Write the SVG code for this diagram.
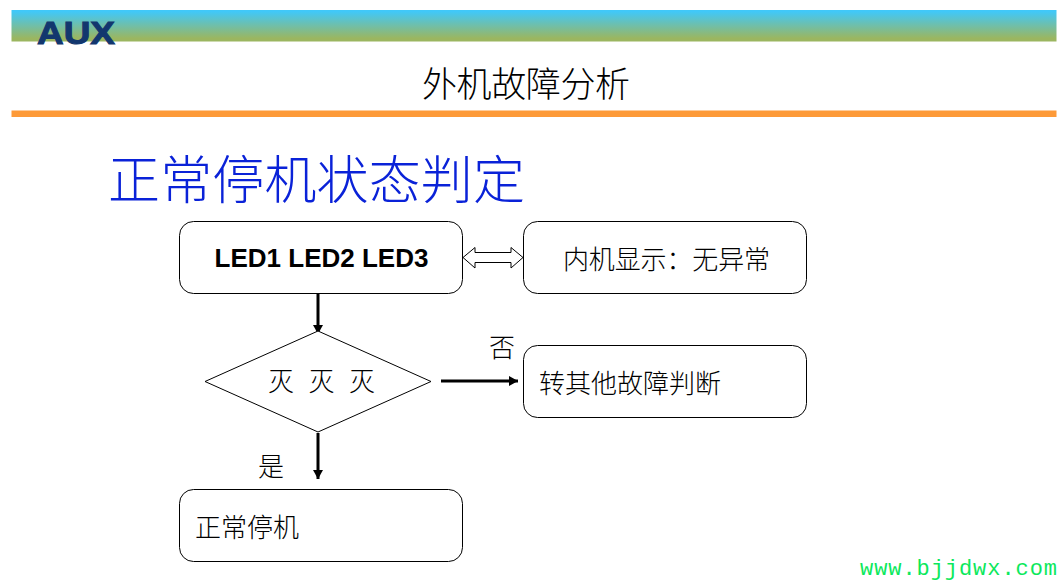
<svg xmlns="http://www.w3.org/2000/svg" width="1062" height="585" viewBox="0 0 1062 585">
<defs>
<linearGradient id="band" x1="0" y1="0" x2="0" y2="1"><stop offset="0.05" stop-color="#41c8f8"/><stop offset="0.9" stop-color="#9bb660"/></linearGradient>
<marker id="ah" markerUnits="userSpaceOnUse" markerWidth="10" markerHeight="10" refX="9" refY="5" orient="auto"><path d="M0 0L9 5L0 10Z" fill="#000"/></marker>
</defs>
<style>
.zh{font-family:"Noto Sans CJK SC","Liberation Serif",serif;font-weight:300;fill:#000}
.box{fill:#fff;stroke:#000;stroke-width:1}
.con{fill:none;stroke:#000;stroke-width:3}
.lbl{font-size:26px}
</style>
<rect width="1062" height="585" fill="#fff"/>
<g id="header">
<rect x="11.500" y="10" width="1045" height="31.500" fill="url(#band)"/>
<text x="37" y="43.500" font-family="Liberation Sans, sans-serif" font-weight="700" font-size="31" fill="#12376e" textLength="78" lengthAdjust="spacingAndGlyphs" stroke="#12376e" stroke-width="1">AUX</text>
<rect x="11.500" y="110.500" width="1045" height="6.500" fill="#fd9a38"/>
<text class="zh" x="526" y="97" font-size="35" text-anchor="middle" textLength="208">外机故障分析</text>
</g>
<text id="title" x="108" y="199" font-family="Noto Sans CJK SC,sans-serif" font-weight="300" font-size="52" fill="#0a22d8" textLength="417">正常停机状态判定</text>
<g id="connectors">
<path class="con" d="M318 293V334" marker-end="url(#ah)"/>
<path class="con" d="M318 433V479" marker-end="url(#ah)"/>
<path class="con" d="M441 381H518" marker-end="url(#ah)"/>
<path d="M463 257.500L475 247.500V252.500H511V247.500L523 257.500L511 268V262.500H475V268Z" fill="#fff" stroke="#000" stroke-width="1"/>
</g>
<g id="node-led"><rect class="box" x="179.500" y="221.500" width="283" height="72" rx="14"/><text x="321.500" y="267" font-family="Liberation Sans, sans-serif" font-weight="700" font-size="26" text-anchor="middle" fill="#000">LED1 LED2 LED3</text></g>
<g id="node-indoor"><rect class="box" x="523.500" y="221.500" width="283" height="72" rx="14"/><text class="zh lbl" x="563" y="269" textLength="207">内机显示：无异常</text></g>
<g id="node-diamond"><path class="box" d="M318 331L431 381.500L318 432L205 381.500Z"/><text class="zh lbl" x="268" y="391" xml:space="preserve" textLength="107">灭 灭 灭</text></g>
<g id="node-other"><rect class="box" x="523.500" y="345.500" width="283" height="72" rx="14"/><text class="zh lbl" x="539" y="393" textLength="182">转其他故障判断</text></g>
<g id="node-stop"><rect class="box" x="179.500" y="489.500" width="283" height="72" rx="14"/><text class="zh lbl" x="195" y="537" textLength="104">正常停机</text></g>
<text class="zh lbl" x="489" y="357">否</text>
<text class="zh lbl" x="258" y="476">是</text>
<text x="860" y="575" font-family="Liberation Mono, monospace" font-size="22" fill="#0ce85c" textLength="197">www.bjjdwx.com</text>
</svg>
